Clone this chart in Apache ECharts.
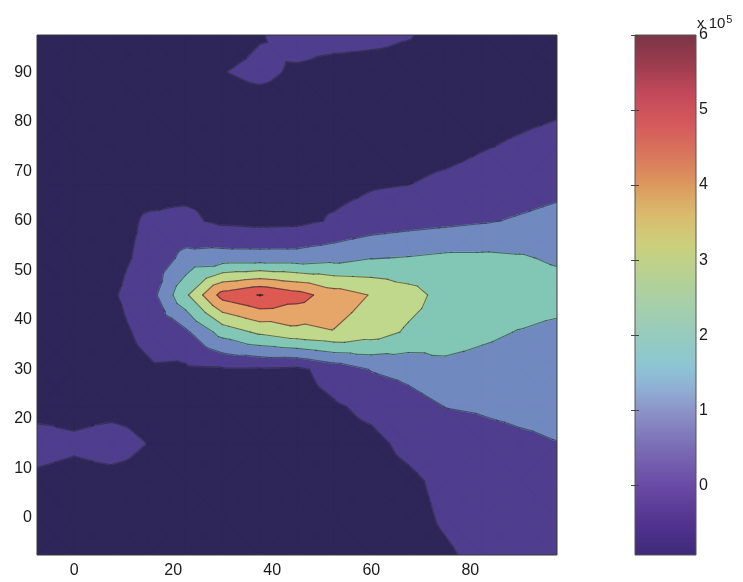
<!DOCTYPE html>
<html>
<head>
<meta charset="utf-8">
<script src="https://cdn.jsdelivr.net/npm/echarts@6/dist/echarts.min.js"></script>
<style>
  html, body { margin: 0; padding: 0; background: #fff; }
  #chart { width: 743px; height: 582px; }
</style>
</head>
<body>
<div id="chart"></div>
<script>
// grid nodes of the field
const xs = [-7.5, 0, 7.5, 15, 22.5, 30, 37.5, 45, 52.5, 60, 67.5, 75, 82.5, 90, 97.5];
const ys = [-7.5, 0, 7.5, 15, 22.5, 30, 37.5, 45, 52.5, 60, 67.5, 75, 82.5, 90, 97.5];

// field values (x 10^5), one row per y, read left to right
const zYm7_5 = [-0.8, -0.8, -0.8, -0.8, -0.8, -0.8, -0.8, -0.8, -0.8, -0.8, -0.8, -0.6, -0.3, -0.15, -0.05];
const zY0    = [-0.8, -0.8, -0.8, -0.8, -0.8, -0.8, -0.8, -0.8, -0.8, -0.8, -0.75, -0.4, -0.15, 0.0, 0.05];
const zY7_5  = [-0.7, -0.8, -0.8, -0.8, -0.8, -0.8, -0.8, -0.8, -0.8, -0.8, -0.65, -0.3, -0.05, 0.1, 0.2];
const zY15   = [-0.15, -0.35, -0.1, -0.52, -0.8, -0.8, -0.8, -0.8, -0.8, -0.7, -0.3, 0.0, 0.2, 0.35, 0.48];
const zY22_5 = [-0.8, -0.8, -0.8, -0.8, -0.8, -0.8, -0.8, -0.8, -0.6, -0.3, 0.1, 0.52, 0.6, 0.7, 0.75];
const zY30   = [-0.8, -0.8, -0.8, -0.6, -0.65, -0.6, -0.6, -0.7, -0.1, 0.55, 0.8, 1.22, 1.12, 1.0, 0.95];
const zY37_5 = [-0.8, -0.8, -0.75, -0.3, 0.3, 1.9, 2.7, 3.2, 3.45, 3.0, 2.35, 2.0, 1.7, 1.45, 1.2];
const zY45   = [-0.8, -0.8, -0.6, -0.05, 2.3, 4.9, 5.55, 4.9, 4.0, 3.45, 2.9, 2.13, 2.1, 2.1, 2.0];
const zY52_5 = [-0.8, -0.8, -0.75, -0.3, 0.8, 0.9, 0.9, 0.9, 1.1, 1.45, 1.55, 1.7, 1.7, 1.6, 1.35];
const zY60   = [-0.8, -0.8, -0.8, -0.4, -0.3, -0.7, -0.8, -0.75, -0.4, -0.1, 0.1, 0.25, 0.4, 0.6, 0.8];
const zY67_5 = [-0.8, -0.8, -0.8, -0.8, -0.8, -0.8, -0.8, -0.8, -0.8, -0.6, -0.52, -0.35, -0.2, 0.0, 0.2];
const zY75   = [-0.8, -0.8, -0.8, -0.8, -0.8, -0.8, -0.8, -0.8, -0.8, -0.8, -0.8, -0.74, -0.55, -0.4, -0.25];
const zY82_5 = [-0.8, -0.8, -0.8, -0.8, -0.8, -0.8, -0.8, -0.8, -0.8, -0.8, -0.8, -0.8, -0.8, -0.7, -0.6];
const zY90   = [-0.8, -0.8, -0.8, -0.8, -0.8, -0.52, -0.35, -0.6, -0.8, -0.8, -0.8, -0.8, -0.8, -0.8, -0.8];
const zY97_5 = [-0.8, -0.8, -0.8, -0.8, -0.8, -0.8, -0.55, -0.2, -0.2, -0.3, -0.45, -0.8, -0.8, -0.8, -0.8];

const zRows = [zYm7_5, zY0, zY7_5, zY15, zY22_5, zY30, zY37_5, zY45, zY52_5, zY60, zY67_5, zY75, zY82_5, zY90, zY97_5];

// contour levels and tick labels
const levels = [-0.5, 0.5, 1.5, 2.5, 3.5, 4.5, 5.5];
const xTicks = [0, 20, 40, 60, 80];
const yTicks = [0, 10, 20, 30, 40, 50, 60, 70, 80, 90];
const cbTicks = [0, 1, 2, 3, 4, 5, 6];
const cbRange = [-0.93, 6];

// styles
const bandColors = ['#2e2558', '#4f3d8e', '#7089bf', '#82c6b6', '#c0d88c', '#e6a66a', '#dc5a52', '#a03848'];
const cbStops = [
  [6, '#7b3548'], [5.6, '#9c3c4e'], [5.2, '#c44a5a'], [4.8, '#d55a5c'], [4.4, '#d9765c'],
  [4.0, '#dd985e'], [3.6, '#d9bc6c'], [3.2, '#cbd07c'], [2.8, '#b6d192'], [2.4, '#a6cfaa'],
  [2.0, '#96cbbe'], [1.6, '#8cc6d2'], [1.3, '#90b0d6'], [1.0, '#8c94c8'], [0.5, '#7a6cb6'],
  [0.0, '#6a4aa4'], [-0.5, '#52338f'], [-0.93, '#3d2a78']
];
const FONT = 'Liberation Sans, Arial, sans-serif';

const chart = echarts.init(document.getElementById('chart'));

// keep a value off a contour level so edges never degenerate
function nudge(v) {
  return levels.some((L) => Math.abs(v - L) < 1e-9) ? v + 1e-6 : v;
}

// clip a polygon [[x,y,v],...] to v >= level (keepAbove) or v <= level
function clip(poly, level, keepAbove) {
  const out = [];
  for (let i = 0; i < poly.length; i++) {
    const p = poly[i], q = poly[(i + 1) % poly.length];
    const pin = keepAbove ? p[2] >= level : p[2] <= level;
    const qin = keepAbove ? q[2] >= level : q[2] <= level;
    if (pin) out.push(p);
    if (pin !== qin) {
      const t = (level - p[2]) / (q[2] - p[2]);
      out.push([p[0] + t * (q[0] - p[0]), p[1] + t * (q[1] - p[1]), level]);
    }
  }
  return out;
}

// split a cell in 4 triangles around its centre
function cellTriangles(i, j) {
  const a = [xs[i], ys[j], nudge(zRows[j][i])];
  const b = [xs[i + 1], ys[j], nudge(zRows[j][i + 1])];
  const c = [xs[i + 1], ys[j + 1], nudge(zRows[j + 1][i + 1])];
  const d = [xs[i], ys[j + 1], nudge(zRows[j + 1][i])];
  const m = [(a[0] + b[0]) / 2, (a[1] + d[1]) / 2, nudge((a[2] + b[2] + c[2] + d[2]) / 4)];
  return [[a, b, m], [b, c, m], [c, d, m], [d, a, m]];
}

function triSegment(tri, L) {
  const pts = [];
  for (let e = 0; e < 3; e++) {
    const p = tri[e], q = tri[(e + 1) % 3];
    if ((p[2] - L) * (q[2] - L) < 0) {
      const t = (L - p[2]) / (q[2] - p[2]);
      pts.push([p[0] + t * (q[0] - p[0]), p[1] + t * (q[1] - p[1])]);
    }
  }
  return pts.length === 2 ? pts : null;
}

const cells = [];
for (let j = 0; j < ys.length - 1; j++) {
  for (let i = 0; i < xs.length - 1; i++) {
    cells.push([xs[i], ys[j], i, j]);
  }
}

function renderFill(params, api) {
  const i = api.value(2), j = api.value(3);
  const children = [];
  cellTriangles(i, j).forEach((tri) => {
    for (let k = 0; k <= levels.length; k++) {
      let poly = tri;
      if (k > 0) poly = clip(poly, levels[k - 1], true);
      if (poly.length >= 3 && k < levels.length) poly = clip(poly, levels[k], false);
      if (poly.length < 3) continue;
      children.push({
        type: 'polygon',
        shape: { points: poly.map((p) => api.coord([p[0], p[1]])) },
        style: { fill: bandColors[k], stroke: bandColors[k], lineWidth: 1.5, lineJoin: 'round' },
        silent: true,
      });
    }
  });
  return { type: 'group', children };
}

function renderLines(params, api) {
  const i = api.value(2), j = api.value(3);
  const children = [];
  cellTriangles(i, j).forEach((tri) => {
    levels.forEach((L) => {
      const seg = triSegment(tri, L);
      if (!seg) return;
      const p1 = api.coord(seg[0]), p2 = api.coord(seg[1]);
      children.push({
        type: 'line',
        shape: { x1: p1[0], y1: p1[1], x2: p2[0], y2: p2[1] },
        style: { stroke: 'rgba(35,45,45,0.6)', lineWidth: 1.1, lineCap: 'round' },
        silent: true,
      });
    });
  });
  return { type: 'group', children };
}

function renderColorbar(params, api) {
  const top = api.coord([0, api.value(2)]);
  const bottom = api.coord([1, api.value(1)]);
  const span = cbRange[1] - cbRange[0];
  const stops = cbStops.map((s) => ({ offset: (cbRange[1] - s[0]) / span, color: s[1] }));
  return {
    type: 'rect',
    shape: { x: top[0], y: top[1], width: bottom[0] - top[0], height: bottom[1] - top[1] },
    style: { fill: new echarts.graphic.LinearGradient(0, 0, 0, 1, stops) },
    silent: true,
  };
}

const labelStyle = { color: '#1a1a1a', fontSize: 16, fontFamily: FONT };

const option = {
  animation: false,
  backgroundColor: '#fff',
  grid: [
    { left: 37, top: 35, width: 520, height: 520, show: true, borderColor: '#3a3a3a', borderWidth: 1, z: 10 },
    { left: 635, top: 35, width: 61, height: 520, show: true, borderColor: '#555', borderWidth: 1, z: 10 },
  ],
  xAxis: [
    {
      type: 'value', gridIndex: 0, min: -7.5, max: 97.5,
      axisLine: { show: false }, axisTick: { show: false }, splitLine: { show: false },
      axisLabel: { ...labelStyle, margin: 8, customValues: xTicks },
    },
    { type: 'value', gridIndex: 1, min: 0, max: 1, show: false },
  ],
  yAxis: [
    {
      type: 'value', gridIndex: 0, min: -7.5, max: 97.5,
      axisLine: { show: false }, axisTick: { show: false }, splitLine: { show: false },
      axisLabel: { ...labelStyle, margin: 5, customValues: yTicks },
    },
    {
      type: 'value', gridIndex: 1, position: 'right', min: cbRange[0], max: cbRange[1], z: 10,
      axisLine: { show: false }, splitLine: { show: false },
      axisTick: { show: true, inside: true, length: 4, lineStyle: { color: '#444' }, customValues: cbTicks },
      axisLabel: { ...labelStyle, margin: 3, customValues: cbTicks },
    },
    {
      type: 'value', gridIndex: 1, position: 'left', min: cbRange[0], max: cbRange[1], z: 10,
      axisLine: { show: false }, splitLine: { show: false }, axisLabel: { show: false },
      axisTick: { show: true, inside: true, length: 4, lineStyle: { color: '#444' }, customValues: cbTicks },
    },
  ],
  graphic: [
    {
      type: 'text', left: 697, top: 14, z: 20,
      style: {
        text: 'x 10{sup|5}',
        fill: '#1a1a1a', font: '15px ' + FONT,
        rich: { sup: { fontSize: 11, fontFamily: FONT, verticalAlign: 'top', padding: [0, 0, 8, 1], fill: '#1a1a1a' } },
      },
    },
  ],
  series: [
    {
      type: 'custom', name: 'fill', xAxisIndex: 0, yAxisIndex: 0, z: 1, clip: true,
      data: cells, encode: { x: 0, y: 1 }, renderItem: renderFill,
    },
    {
      type: 'custom', name: 'contours', xAxisIndex: 0, yAxisIndex: 0, z: 2, clip: true,
      data: cells, encode: { x: 0, y: 1 }, renderItem: renderLines,
    },
    {
      type: 'custom', name: 'colorbar', xAxisIndex: 1, yAxisIndex: 1, z: 1,
      data: [[0, cbRange[0], cbRange[1]]], encode: { x: 0, y: [1, 2] }, renderItem: renderColorbar,
    },
  ],
};

chart.setOption(option);
</script>
</body>
</html>
